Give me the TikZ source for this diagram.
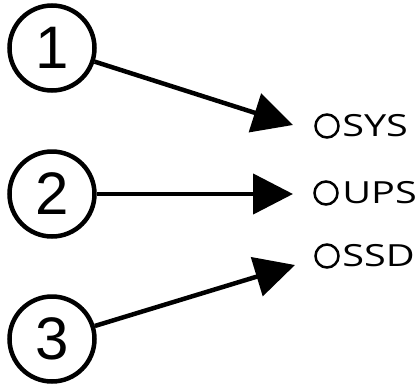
\documentclass[tikz,border=0pt]{standalone}
\usepackage{fontspec}
\setmainfont{Liberation Sans}
\newfontfamily\ledfont{Open Sans}
\usetikzlibrary{positioning,arrows.meta}

\begin{document}
\begin{tikzpicture}[x=1pt, y=-1pt,
  num/.style={circle, draw, line width=4.5pt, minimum size=85pt, inner sep=0pt,
    font=\fontsize{60}{60}\selectfont},
  led/.style={circle, draw, line width=2.5pt, minimum size=23pt, inner sep=0pt},
  lbl/.style={anchor=west, inner sep=0pt, xscale=1.3,
    font=\ledfont\fontsize{30.5}{30.5}\selectfont},
  pointer/.style={line width=4.5pt, -{Triangle[length=40pt, width=40pt]}}]
\useasboundingbox (0,0) rectangle (420,386);
\node[num] (one) at (52,48) {1};
\node[num] (two) at (52,194) {2};
\node[num] (three) at (52,339) {3};

\node[led] (sys) at (327,126) {};
\node[led] (ups) at (326,193) {};
\node[led] (ssd) at (327,256) {};
\node[lbl] (sysl) at (342,126) {SYS};
\node[lbl] (upsl) at (342,193) {UPS};
\node[lbl] (ssdl) at (342,256) {SSD};

\coordinate (tip1) at (293,125);
\coordinate (tip2) at (293,194);
\coordinate (tip3) at (295,265);

\draw
	(one) edge[pointer] (tip1)
	(two) edge[pointer] (tip2)
	(three) edge[pointer] (tip3)
;
\end{tikzpicture}
\end{document}
